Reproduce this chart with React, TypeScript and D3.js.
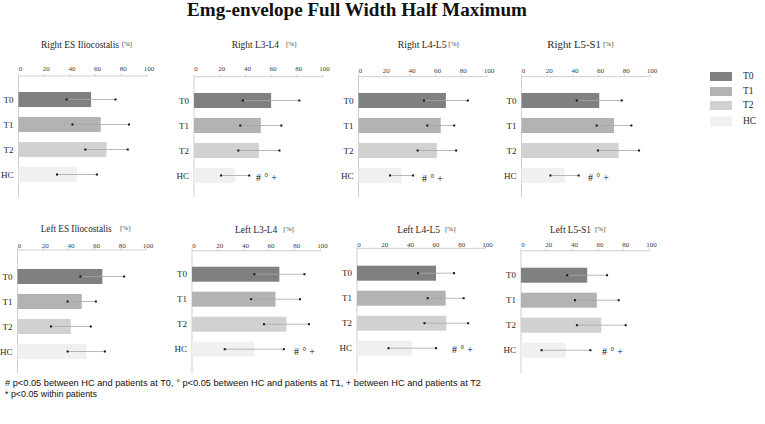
import React from "react";
import * as d3 from "d3";

// ---------- data ----------
const groups = ["T0", "T1", "T2", "HC"];
const ticks = [0, 20, 40, 60, 80, 100];
const panelNames = [
  "Right ES Iliocostalis", "Right L3-L4", "Right L4-L5", "Right L5-S1",
  "Left ES Iliocostalis", "Left L3-L4", "Left L4-L5", "Left L5-S1",
];
const unitLabel = "[%]";
const meanRightES = [56.5, 64, 68.5, 45.5];
const sdRightES = [19, 22, 16.5, 15.5];
const meanRightL3L4 = [60, 52, 50.5, 32];
const sdRightL3L4 = [22, 16, 16, 11];
const meanRightL4L5 = [68, 64, 61, 33.5];
const sdRightL4L5 = [17, 10.5, 15, 9];
const meanRightL5S1 = [60.5, 72, 75.5, 33.5];
const sdRightL5S1 = [17.5, 13.5, 16, 11];
const meanLeftES = [66, 50, 41.5, 53.5];
const sdLeftES = [17, 11, 15.5, 14.5];
const meanLeftL3L4 = [68, 65, 73.5, 48.5];
const sdLeftL3L4 = [19.5, 19, 17.5, 23];
const meanLeftL4L5 = [61.5, 69, 69.5, 43];
const sdLeftL4L5 = [14, 14, 17, 18.5];
const meanLeftL5S1 = [51.5, 59, 62.5, 35];
const sdLeftL5S1 = [15.5, 17, 19, 19];
const panelMeans = [meanRightES, meanRightL3L4, meanRightL4L5, meanRightL5S1, meanLeftES, meanLeftL3L4, meanLeftL4L5, meanLeftL5S1];
const panelSds = [sdRightES, sdRightL3L4, sdRightL4L5, sdRightL5S1, sdLeftES, sdLeftL3L4, sdLeftL4L5, sdLeftL5S1];
const hcMarks = ["", "# ° +", "# ° +", "# ° +", "", "# ° +", "# ° +", "# ° +"];
const chartTitle = "Emg-envelope Full Width Half Maximum";
const footnote1 = "# p<0.05 between HC and patients at T0, ° p<0.05 between HC and patients at T1, + between HC and patients at T2";
const footnote2 = "* p<0.05 within patients";

// ---------- layout / style ----------
const colors = ["#808080", "#b3b3b3", "#d1d1d1", "#f0f0f0"];
const layout = [
  { x0: 18.5, axisY: 76, bar0: 92, tX: 41, tW: 78, pX: 121.7, tY: 47.7, tickY: 71.3, vEnd: 197, aX: 0, aY: 0 },
  { x0: 194, axisY: 76.7, bar0: 93, tX: 231.7, tW: 47.3, pX: 286, tY: 47.5, tickY: 71, vEnd: 197, aX: 256, aY: 180.5 },
  { x0: 358.5, axisY: 76.7, bar0: 93, tX: 397.7, tW: 49, pX: 448.3, tY: 47.5, tickY: 72.5, vEnd: 197, aX: 422, aY: 181.5 },
  { x0: 521.5, axisY: 76.7, bar0: 93, tX: 547.3, tW: 53.7, pX: 603, tY: 47.5, tickY: 73, vEnd: 197, aX: 588, aY: 181 },
  { x0: 17.5, axisY: 250, bar0: 269, tX: 40.7, tW: 71, pX: 120, tY: 232.3, tickY: 247.7, vEnd: 373, aX: 0, aY: 0 },
  { x0: 192, axisY: 250.7, bar0: 266.7, tX: 235, tW: 42.3, pX: 283.3, tY: 233.3, tickY: 248.3, vEnd: 373, aX: 294, aY: 354.5 },
  { x0: 357, axisY: 248.3, bar0: 265.7, tX: 397.3, tW: 42.7, pX: 445, tY: 233.3, tickY: 246.7, vEnd: 373, aX: 452, aY: 352.5 },
  { x0: 521, axisY: 250.7, bar0: 267.7, tX: 550, tW: 41, pX: 595, tY: 233.3, tickY: 247.3, vEnd: 373, aX: 602, aY: 354.5 },
];
const SPAN = 128.5;
const serif = "'Liberation Serif', 'DejaVu Serif', serif";
const sans = "'Liberation Sans', Arial, sans-serif";

function Panel({ i }: { i: number }) {
  const L = layout[i];
  const x = d3.scaleLinear().domain([0, 100]).range([L.x0, L.x0 + SPAN]);
  const y = d3.scaleBand<string>().domain(groups).range([L.bar0 - 5, L.bar0 + 95]).paddingInner(0.4).paddingOuter(0.2);
  const means = panelMeans[i];
  const sds = panelSds[i];
  const axisColor = "#cfcfcf";
  return (
    <g>
      <text x={L.tX} y={L.tY} fontFamily={serif} fontSize={9.5} fill="#262626" textLength={L.tW} lengthAdjust="spacingAndGlyphs">
        {panelNames[i]}
      </text>
      <text x={L.pX} y={L.tY - 2} fontFamily={serif} fontSize={7} fill="#404040">
        {unitLabel}
      </text>
      {/* axes */}
      <line x1={x(0)} x2={x(100)} y1={L.axisY} y2={L.axisY} stroke={axisColor} strokeWidth={1} />
      <line x1={x(0)} x2={x(0)} y1={L.axisY} y2={L.vEnd} stroke={axisColor} strokeWidth={1} />
      {ticks.map((t) => (
        <g key={t}>
          <line x1={x(t)} x2={x(t)} y1={L.axisY} y2={L.axisY - 2} stroke={axisColor} strokeWidth={1} />
          <text x={x(t) + 2} y={L.tickY} textAnchor="middle" fontFamily={serif} fontSize={7} fill="#404040">
            {t}
          </text>
        </g>
      ))}
      {groups.map((g, k) => {
        const yy = y(g)!;
        const h = y.bandwidth();
        const cy = yy + h / 2;
        const lo = x(means[k] - sds[k]);
        const hi = x(means[k] + sds[k]);
        return (
          <g key={g}>
            <text x={x(0) - 5} y={cy + 3} textAnchor="end" fontFamily={serif} fontSize={9} fill="#262626">
              {g}
            </text>
            <rect x={x(0)} y={yy} width={x(means[k]) - x(0)} height={h} fill={colors[k]} />
            <line x1={lo} x2={hi} y1={cy} y2={cy} stroke="#a6a6a6" strokeWidth={0.8} />
            <rect x={lo - 1} y={cy - 1} width={2} height={2} fill="#111" />
            <rect x={hi - 1} y={cy - 1} width={2} height={2} fill="#111" />
          </g>
        );
      })}
      {hcMarks[i] ? (
        <text x={L.aX} y={L.aY} fontFamily={serif} fontSize={10} fill="#111" textLength={21} lengthAdjust="spacing">
          {hcMarks[i]}
        </text>
      ) : null}
    </g>
  );
}

export default function App() {
  const legendY = [72, 87, 101, 116.5];
  const legendH = [9, 9, 9, 10];
  const legendTextY = [79.3, 94, 107.5, 124];
  return (
    <svg
      width={765}
      height={424}
      style={{ position: "absolute", left: 0, top: 0, background: "#fff" }}
    >
      <rect x={0} y={0} width={765} height={424} fill="#fff" />
      <text x={187} y={15.5} fontFamily={serif} fontWeight="bold" fontSize={18.5} fill="#111" textLength={340} lengthAdjust="spacingAndGlyphs">
        {chartTitle}
      </text>
      {panelNames.map((_, i) => (
        <Panel key={i} i={i} />
      ))}
      {groups.map((g, k) => (
        <g key={g}>
          <rect x={710} y={legendY[k]} width={22} height={legendH[k]} fill={colors[k]} />
          <text x={743} y={legendTextY[k]} fontFamily={serif} fontSize={9.5} fill="#262626">
            {g}
          </text>
        </g>
      ))}
      <text x={5} y={386.3} fontFamily={sans} fontSize={8.8} fill="#111" textLength={476} lengthAdjust="spacingAndGlyphs">
        {footnote1}
      </text>
      <text x={5} y={396.5} fontFamily={sans} fontSize={8.8} fill="#111" textLength={92} lengthAdjust="spacingAndGlyphs">
        {footnote2}
      </text>
    </svg>
  );
}
